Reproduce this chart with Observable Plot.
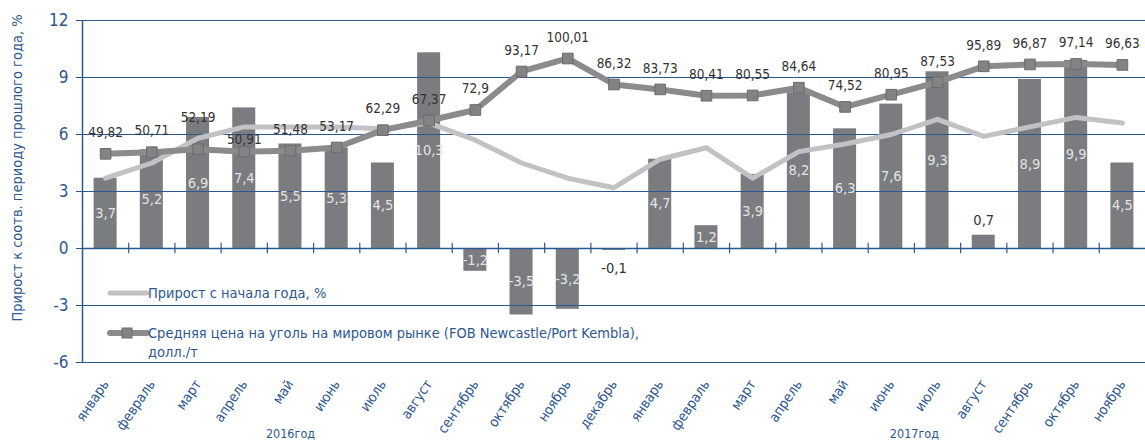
<!DOCTYPE html>
<html><head><meta charset="utf-8">
<script src="https://cdn.jsdelivr.net/npm/d3@7"></script>
<script src="https://cdn.jsdelivr.net/npm/@observablehq/plot@0.6"></script>
<style>
body{margin:0;background:#fff;}
#chart svg{font-family:"Liberation Sans Narrow","DejaVu Sans Condensed",sans-serif;overflow:visible;}
g[aria-label="bars"] rect{filter:drop-shadow(1px 2px 1.5px rgba(0,0,0,0.35));}
</style></head><body><div id="chart"></div>
<script>
const months = ["январь","февраль","март","апрель","май","июнь","июль","август","сентябрь","октябрь","ноябрь","декабрь",
                "январь","февраль","март","апрель","май","июнь","июль","август","сентябрь","октябрь","ноябрь"];
const growthYoY = [3.7,5.2,6.9,7.4,5.5,5.3,4.5,10.3,-1.2,-3.5,-3.2,-0.1,4.7,1.2,3.9,8.2,6.3,7.6,9.3,0.7,8.9,9.9,4.5];
const growthYtd = [3.7,4.5,5.8,6.4,6.4,6.4,6.3,6.6,5.7,4.5,3.7,3.2,4.7,5.3,3.7,5.1,5.5,6.0,6.8,5.9,6.4,6.9,6.6];
const coalPrice = [49.82,50.71,52.19,50.91,51.48,53.17,62.29,67.37,72.9,93.17,100.01,86.32,83.73,80.41,80.55,84.64,74.52,80.95,87.53,95.89,96.87,97.14,96.63];
const yTicks = [-6,-3,0,3,6,9,12];
const years = [{label:"2016год", at:4},{label:"2017год", at:17.5}];
const priceAxisFactor = 10; // secondary (hidden) price axis 0..120 maps onto -6..12 left axis as price/10
const legendItems = ["Прирост с начала года, %","Средняя цена на уголь на мировом рынке (FOB Newcastle/Port Kembla),","долл./т"];
const yTitle = "Прирост к соотв. периоду прошлого года, %";

const data = months.map((m,i)=>({i, m, yoy:growthYoY[i], ytd:growthYtd[i], price:coalPrice[i], p:coalPrice[i]/priceAxisFactor}));
const fmt = v => String(v).replace(".", ",");
const blue = "#2c5890";
const W = 1145, H = 443;

const big = data.filter(d => Math.abs(d.yoy) >= 1);
const smallPos = data.filter(d => Math.abs(d.yoy) < 1 && d.yoy >= 0);
const smallNeg = data.filter(d => Math.abs(d.yoy) < 1 && d.yoy < 0);
const special = new Set([2,3]);

const chart = Plot.plot({
  width: W, height: H,
  marginLeft: 82, marginRight: 0, marginTop: 20, marginBottom: 81,
  x: {type:"linear", domain:[-0.5, 22.5], axis:null},
  y: {domain:[-6,12], axis:null},
  style: {background:"#fff"},
  marks: [
    Plot.ruleY(yTicks.filter(v=>v!==0), {stroke:"#b8b8b8", strokeDasharray:"1,2", strokeWidth:1}),
    Plot.rectY(data, {x1:d=>d.i-0.5, x2:d=>d.i+0.5, y:"yoy", insetLeft:11.6, insetRight:11.6, fill:"#7b7c80", ariaLabel:"bars"}),
    Plot.ruleY([0], {stroke:blue, strokeWidth:1.5}),
    Plot.ruleX(d3.range(0.5, 22, 1), {y1:-0.27, y2:0.27, stroke:blue, strokeWidth:1.2}),
    Plot.ruleX([-0.5], {y1:-6, y2:12, stroke:blue, strokeWidth:1.5}),
    Plot.tickY(yTicks, {x1:-0.5, x2:-0.5, insetLeft:-6, stroke:blue}),
    Plot.line(data, {x:"i", y:"ytd", stroke:"#c2c2c4", strokeWidth:5}),
    Plot.line(data, {x:"i", y:"p", stroke:"#8b8b8d", strokeWidth:6}),
    Plot.dot(data, {x:"i", y:"p", symbol:"square", r:6, fill:"#838385", stroke:"#6c6c6e", strokeWidth:1}),
    Plot.text(data.filter(d=>!special.has(d.i)), {x:"i", y:"p", text:d=>fmt(d.price), dy:-21, fill:"#333", fontSize:13.5}),
    Plot.text(data.filter(d=>d.i===2), {x:"i", y:"p", text:d=>fmt(d.price), dy:-32, fill:"#333", fontSize:13.5}),
    Plot.text(data.filter(d=>d.i===3), {x:"i", y:"p", text:d=>fmt(d.price), dy:-12, fill:"#333", fontSize:13.5}),
    Plot.text(big, {x:"i", y:d=>d.yoy/2, text:d=>fmt(d.yoy), fill:"#e4e4e4", fontSize:14.5}),
    Plot.text(smallPos, {x:"i", y:"yoy", text:d=>fmt(d.yoy), dy:-15, fill:"#333", fontSize:14.5}),
    Plot.text(smallNeg, {x:"i", y:0, text:d=>fmt(d.yoy), dy:20, fill:"#333", fontSize:14.5}),
    Plot.text(yTicks, {x:-0.5, y:d=>d, text:d=>String(d), textAnchor:"end", dx:-14, fill:blue, fontSize:17}),
    Plot.axisX(d3.range(23), {tickFormat:i=>months[i], tickRotate:-56, tickSize:0, tickPadding:19, fontSize:14, color:blue, anchor:"bottom"}),
    Plot.text(years, {x:"at", text:"label", frameAnchor:"bottom", dy:75, fill:blue, fontSize:12.5})
  ]
});

const svg = d3.select(chart);
const lg = svg.append("g").attr("font-size", 14.5).attr("fill", blue).attr("text-anchor","start");
lg.append("line").attr("x1",110).attr("x2",147).attr("y1",293).attr("y2",293).attr("stroke","#c2c2c4").attr("stroke-width",5).attr("stroke-linecap","round");
lg.append("text").attr("x",148).attr("y",293).attr("dy","0.35em").text(legendItems[0]);
lg.append("line").attr("x1",110).attr("x2",147).attr("y1",333).attr("y2",333).attr("stroke","#8b8b8d").attr("stroke-width",6).attr("stroke-linecap","round");
lg.append("rect").attr("x",122).attr("y",328).attr("width",10).attr("height",10).attr("fill","#838385").attr("stroke","#6c6c6e");
lg.append("text").attr("x",148).attr("y",333).attr("dy","0.35em").text(legendItems[1]);
lg.append("text").attr("x",148).attr("y",352).attr("dy","0.35em").text(legendItems[2]);
svg.append("text").attr("transform","translate(17,168) rotate(-90)").attr("text-anchor","middle").attr("dy","0.35em")
  .attr("font-size",14.5).attr("fill",blue).text(yTitle);

document.getElementById("chart").appendChild(chart);
</script></body></html>
